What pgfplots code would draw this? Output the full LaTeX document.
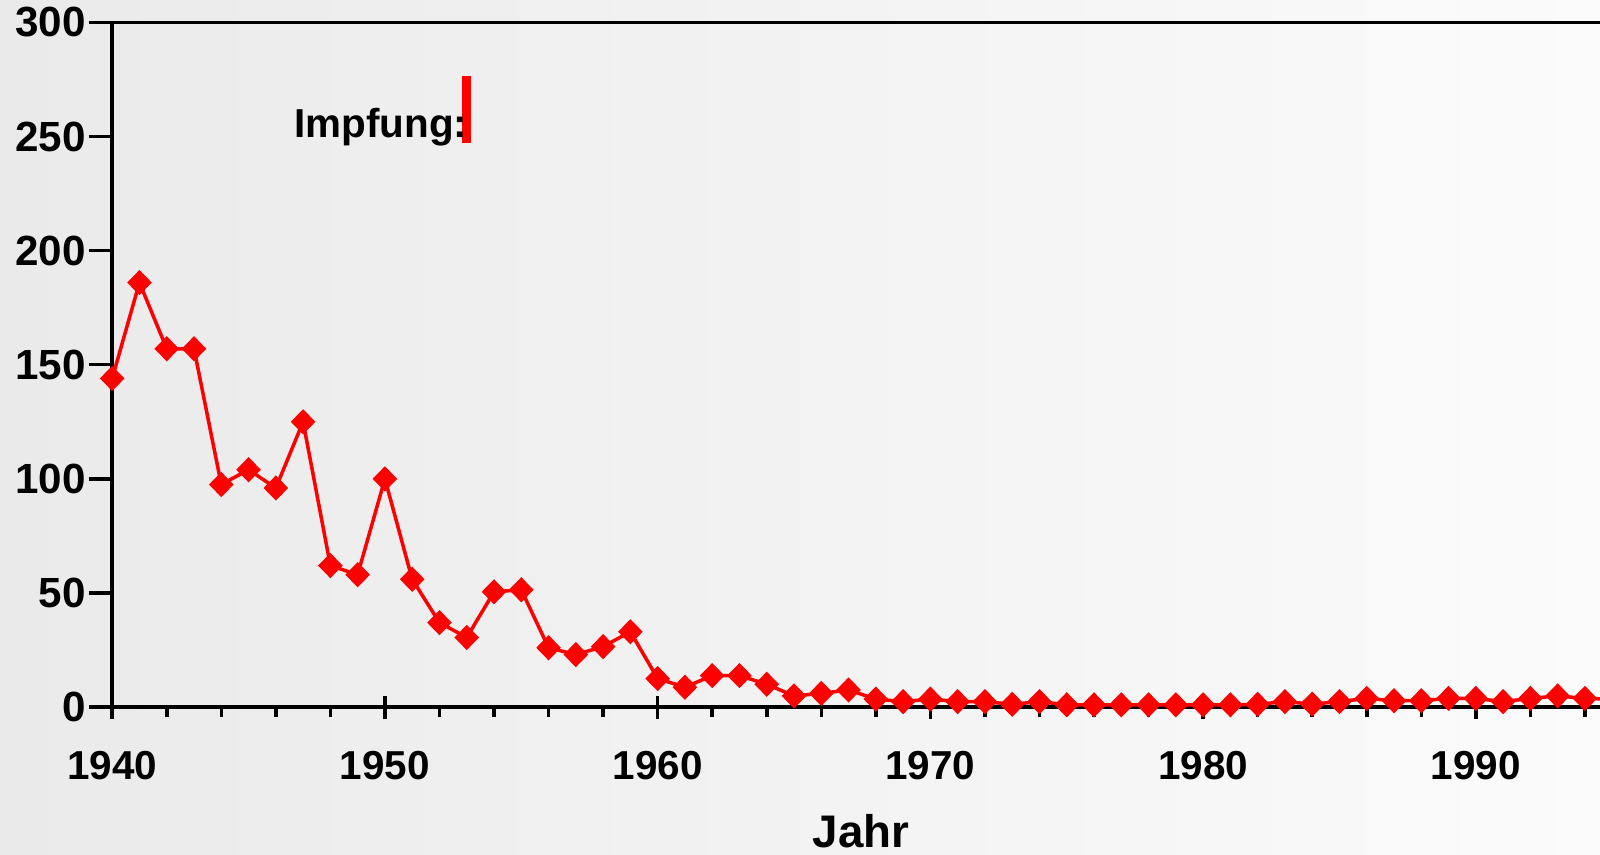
\documentclass[border=0pt]{standalone}
\usepackage{pgfplots}
\pgfplotsset{compat=1.18}
\usepackage{fontspec}
\setmainfont{Liberation Sans}
\definecolor{bgL}{RGB}{234,234,234}
\definecolor{bgR}{RGB}{251,251,251}
\begin{document}
\begin{tikzpicture}
\useasboundingbox (0,0) rectangle (16,8.55);
\clip (0,0) rectangle (16,8.55);
\shade[left color=bgL, right color=bgR] (0,0) rectangle (16,8.55);
\begin{axis}[
  at={(1.122cm,1.479cm)}, anchor=south west,
  scale only axis, width=15.0cm, height=6.847cm,
  xmin=1940, xmax=1995, ymin=0, ymax=300,
  axis line style={line width=1pt, black},
  xtick={1940,1950,...,1990},
  ytick={0,50,...,300},
  xtick pos=bottom, ytick pos=left,
  x tick style={line width=1pt, black},
  y tick style={line width=1pt, black},
  xtick align=center, ytick align=outside,
  major tick length=0.23cm,
  extra x ticks={1942,1944,...,1994},
  extra x tick labels={},
  extra x tick style={xtick align=outside, major tick length=0.1cm},
  xticklabel style={font=\fontsize{11.5}{13}\selectfont\bfseries, yshift=-0.2cm},
  yticklabel style={font=\fontsize{12}{14}\selectfont\bfseries, xshift=0.09cm},
  /pgf/number format/assume math mode=true,
  /pgf/number format/1000 sep={},
  clip=false,
]
\addplot[red, line width=1pt, mark=diamond*, mark size=3.3pt, mark options={fill=red, draw=red, line width=0.4pt, xscale=1.3}] coordinates {
(1940,144) (1941,186) (1942,157) (1943,157) (1944,97.5) (1945,104) (1946,96)
(1947,125) (1948,62) (1949,58) (1950,100) (1951,56) (1952,37) (1953,30.5)
(1954,50.5) (1955,51.4) (1956,26) (1957,23) (1958,26.5) (1959,33) (1960,12.5)
(1961,8.7) (1962,13.8) (1963,13.8) (1964,10) (1965,4.9) (1966,6) (1967,7.5)
(1968,3.5) (1969,2.4) (1970,3.5) (1971,2.4) (1972,2.4) (1973,1.2) (1974,2.4)
(1975,1) (1976,1) (1977,1) (1978,1) (1979,1) (1980,1) (1981,1) (1982,1.2)
(1983,2.4) (1984,1.3) (1985,2.4) (1986,3.8) (1987,2.8) (1988,2.8) (1989,3.8)
(1990,3.8) (1991,2.4) (1992,3.8) (1993,4.9) (1994,3.8) (1995,3.5)
};
\addplot[red, line width=2.6pt, forget plot] coordinates {(1953,247) (1953,276.5)};
\node[anchor=base east, inner sep=0pt, font=\fontsize{11.5}{13}\selectfont\bfseries] at (axis cs:1953.05,249.7) {Impfung:};
\end{axis}
\node[anchor=base, inner sep=0pt, font=\fontsize{13}{15}\selectfont\bfseries] at (8.61,0.07) {Jahr};
\end{tikzpicture}
\end{document}
